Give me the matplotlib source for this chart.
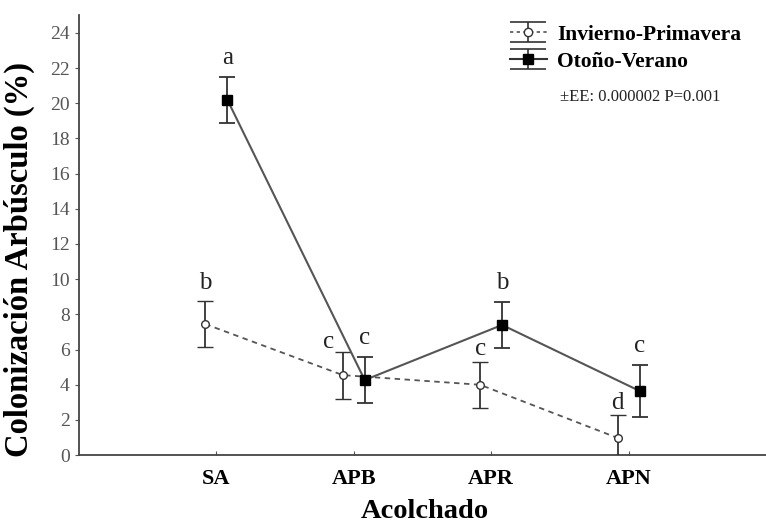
import numpy as np
import matplotlib.pyplot as plt
from matplotlib.path import Path
from matplotlib.lines import Line2D
from matplotlib.legend_handler import HandlerTuple

plt.rcParams['font.family'] = ['Liberation Serif', 'DejaVu Serif']

# datos ----------------------------------------
categorias = ['SA', 'APB', 'APR', 'APN']
inv_prim = [7.45, 4.55, 4.0, 0.98]
inv_err = [1.3, 1.33, 1.32, 1.32]
oto_ver = [20.2, 4.27, 7.4, 3.65]
oto_err = [1.3, 1.32, 1.32, 1.47]
letras_inv = ['b', 'c', 'c', 'd']
letras_oto = ['a', 'c', 'b', 'c']

x = np.arange(1, len(categorias) + 1)
dx = 0.08
gris = '#555555'
oscuro = '#333333'

fig = plt.figure(figsize=(7.66, 5.25), dpi=100)
ax = fig.add_axes([0.103, 0.133, 0.897, 0.838])

ax.errorbar(x - dx, inv_prim, yerr=inv_err, color=gris, ls=(0, (3, 2.5)), lw=1.3,
            marker='o', ms=5.5, mfc='white', mec=oscuro, mew=1,
            ecolor=oscuro, elinewidth=1.3, capsize=6, capthick=1.3, zorder=3)
ax.errorbar(x + dx, oto_ver, yerr=oto_err, color=gris, ls='-', lw=1.5,
            marker='s', ms=6.5, mfc='black', mec='black',
            ecolor=oscuro, elinewidth=1.3, capsize=6, capthick=1.3, zorder=3)

# letras de significancia (offsets en puntos)
off_inv_x = [0, -10, 0, 0]
off_inv_y = [9, 2.5, 5, 4]
for i in range(len(x)):
    ax.annotate(letras_inv[i], (x[i] - dx, inv_prim[i] + inv_err[i]),
                xytext=(off_inv_x[i], off_inv_y[i]), textcoords='offset points',
                ha='center', va='baseline', fontsize=18, color='#222222')
    ax.annotate(letras_oto[i], (x[i] + dx, oto_ver[i] + oto_err[i]),
                xytext=(0, 9.5), textcoords='offset points',
                ha='center', va='baseline', fontsize=18, color='#222222')

ax.set_xlim(0, 5)
ax.set_ylim(0, 25)
ax.set_yticks(np.arange(0, 25, 2))
ax.set_xticks(x)
ax.set_xticklabels(categorias, fontweight='bold', fontsize=16)
ax.tick_params(axis='y', labelsize=14, labelcolor=gris, direction='out', length=3, color=gris)
ax.tick_params(axis='x', direction='in', length=3, color=gris, pad=10)

for s in ['top', 'right']:
    ax.spines[s].set_visible(False)
for s in ['left', 'bottom']:
    ax.spines[s].set_color('#444444')
    ax.spines[s].set_linewidth(1.3)

ax.set_xlabel('Acolchado', fontsize=20.5, fontweight='bold', va='baseline')
ax.xaxis.set_label_coords(0.503, -0.143)
ax.set_ylabel('Colonización Arbúsculo (%)', fontsize=23.5, fontweight='bold')
ax.yaxis.set_label_coords(-0.064, 0.445)

# leyenda con simbolo de barras de error tipo "I" ancho
caps = Path([(-1, 0.58), (1, 0.58), (-1, -0.58), (1, -0.58), (0, 0.58), (0, -0.58)],
            [Path.MOVETO, Path.LINETO, Path.MOVETO, Path.LINETO, Path.MOVETO, Path.LINETO])
cap_h = Line2D([], [], ls='none', marker=caps, ms=26, mec=oscuro, mew=1.2)
h_inv = Line2D([], [], color=gris, ls=(0, (2, 2)), lw=1.2, marker='o', ms=6,
               mfc='white', mec=oscuro)
h_oto = Line2D([], [], color=oscuro, ls='-', lw=1.5, marker='s', ms=7,
               mfc='black', mec='black')
leg = fig.legend([(cap_h, h_inv), (cap_h, h_oto)], ['Invierno-Primavera', 'Otoño-Verano'],
                 handler_map={tuple: HandlerTuple(ndivide=1)},
                 loc='upper left', bbox_to_anchor=(510 / 766, 1 - 23 / 525),
                 frameon=False, prop={'weight': 'bold', 'size': 15.5},
                 handlelength=1.7, handleheight=1.0, handletextpad=0.5,
                 labelspacing=0.25, borderpad=0, borderaxespad=0)
ax.text(0.700, 0.814, '±EE: 0.000002 P=0.001', transform=ax.transAxes,
        fontsize=12, color='#222222', va='center')

fig.savefig('out.png', dpi=100)
